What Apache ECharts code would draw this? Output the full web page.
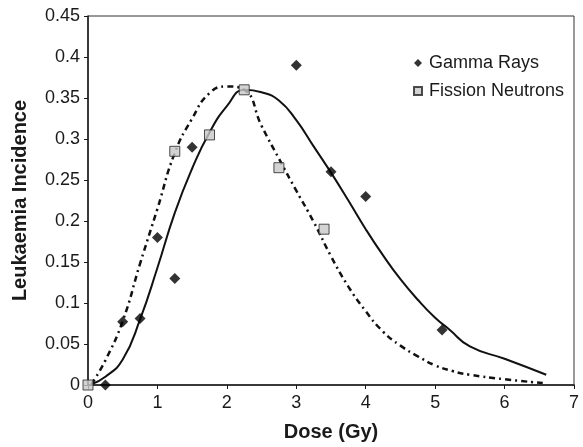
<!DOCTYPE html>
<html>
<head>
<meta charset="utf-8">
<script src="https://cdn.jsdelivr.net/npm/echarts@6/dist/echarts.min.js"></script>
<style>
  html, body { margin: 0; padding: 0; background: #fff; }
  #chart { width: 583px; height: 447px; }
</style>
</head>
<body>
<div id="chart"></div>
<script>
// Observed incidence by dose
const gammaDose = [0.25, 0.5, 0.75, 1.0, 1.25, 1.5, 3.0, 3.5, 4.0, 5.1];
const gammaIncidence = [0.0, 0.077, 0.081, 0.18, 0.13, 0.29, 0.39, 0.26, 0.23, 0.067];

const neutronDose = [0, 1.25, 1.75, 2.25, 2.75, 3.4];
const neutronIncidence = [0.0, 0.285, 0.305, 0.36, 0.265, 0.19];

// Fitted curves
const gammaFitDose = [0.05, 0.25, 0.5, 0.75, 1.0, 1.25, 1.5, 1.75, 2.0, 2.25, 2.5, 2.75, 3.0, 3.25, 3.5, 3.75, 4.0, 4.25, 4.5, 4.75, 5.0, 5.2, 5.5, 6.0, 6.6];
const gammaFitValue = [0.001, 0.01, 0.031, 0.08, 0.143, 0.21, 0.264, 0.308, 0.34, 0.36, 0.357, 0.347, 0.323, 0.291, 0.259, 0.225, 0.19, 0.158, 0.129, 0.104, 0.082, 0.068, 0.047, 0.032, 0.0125];

const neutronFitDose = [0.05, 0.25, 0.5, 0.75, 1.0, 1.25, 1.5, 1.75, 2.0, 2.25, 2.5, 2.75, 3.0, 3.25, 3.5, 3.75, 4.0, 4.25, 4.5, 4.75, 5.0, 5.25, 5.5, 6.0, 6.55];
const neutronFitValue = [0.001, 0.03, 0.078, 0.148, 0.215, 0.283, 0.325, 0.356, 0.364, 0.36, 0.316, 0.276, 0.237, 0.199, 0.157, 0.12, 0.09, 0.065, 0.048, 0.035, 0.024, 0.017, 0.0125, 0.007, 0.0024];

const xTicks = [0, 1, 2, 3, 4, 5, 6, 7];
const yTicks = [0, 0.05, 0.1, 0.15, 0.2, 0.25, 0.3, 0.35, 0.4, 0.45];

const zip = (xs, ys) => xs.map((x, i) => [x, ys[i]]);

const chart = echarts.init(document.getElementById('chart'));
const font = 'Liberation Sans, Arial, sans-serif';
const ink = '#1a1a1a';

chart.setOption({
  animation: false,
  grid: {
    left: 88, right: 9, top: 16, bottom: 60,
    show: true, borderColor: '#333', borderWidth: 1
  },
  legend: {
    orient: 'vertical',
    left: 408, top: 49,
    itemWidth: 8, itemHeight: 8, itemGap: 10,
    textStyle: { fontFamily: font, fontSize: 18, color: ink, padding: [0, 0, 0, 2] },
    data: [
      { name: 'Gamma Rays', icon: 'diamond' },
      { name: 'Fission Neutrons', icon: 'rect' }
    ]
  },
  xAxis: {
    type: 'value', min: xTicks[0], max: xTicks[xTicks.length - 1], interval: 1,
    name: 'Dose (Gy)', nameLocation: 'middle', nameGap: 37,
    nameTextStyle: { fontFamily: font, fontSize: 20, fontWeight: 'bold', color: ink },
    axisLine: { lineStyle: { color: ink, width: 1.5 } },
    axisTick: { show: true, length: 4, lineStyle: { color: ink } },
    axisLabel: { fontFamily: font, fontSize: 18, color: ink, margin: 9 },
    splitLine: { show: false }
  },
  yAxis: {
    type: 'value', min: yTicks[0], max: yTicks[yTicks.length - 1], interval: 0.05,
    name: 'Leukaemia Incidence', nameLocation: 'middle', nameGap: 58, nameRotate: 90,
    nameTextStyle: { fontFamily: font, fontSize: 20, fontWeight: 'bold', color: ink },
    axisLine: { lineStyle: { color: ink, width: 1.5 } },
    axisTick: { show: true, length: 4, lineStyle: { color: ink } },
    axisLabel: { fontFamily: font, fontSize: 18, color: ink, margin: 8 },
    splitLine: { show: false }
  },
  series: [
    {
      name: 'Gamma fit', type: 'line', smooth: 0.5, symbol: 'none', silent: true,
      lineStyle: { color: '#111', width: 2 },
      data: zip(gammaFitDose, gammaFitValue), z: 2
    },
    {
      name: 'Neutron fit', type: 'line', smooth: 0.5, symbol: 'none', silent: true,
      lineStyle: { color: '#111', width: 2.5, type: [6, 4, 2, 4] },
      data: zip(neutronFitDose, neutronFitValue), z: 2
    },
    {
      name: 'Gamma Rays', type: 'scatter', symbol: 'diamond', symbolSize: 11,
      itemStyle: { color: '#000' },
      data: zip(gammaDose, gammaIncidence), z: 5
    },
    {
      name: 'Fission Neutrons', type: 'scatter', symbol: 'rect', symbolSize: 10,
      itemStyle: { color: '#c8c8c8', borderColor: '#222', borderWidth: 1 },
      data: zip(neutronDose, neutronIncidence), z: 6
    }
  ]
});
</script>
</body>
</html>
